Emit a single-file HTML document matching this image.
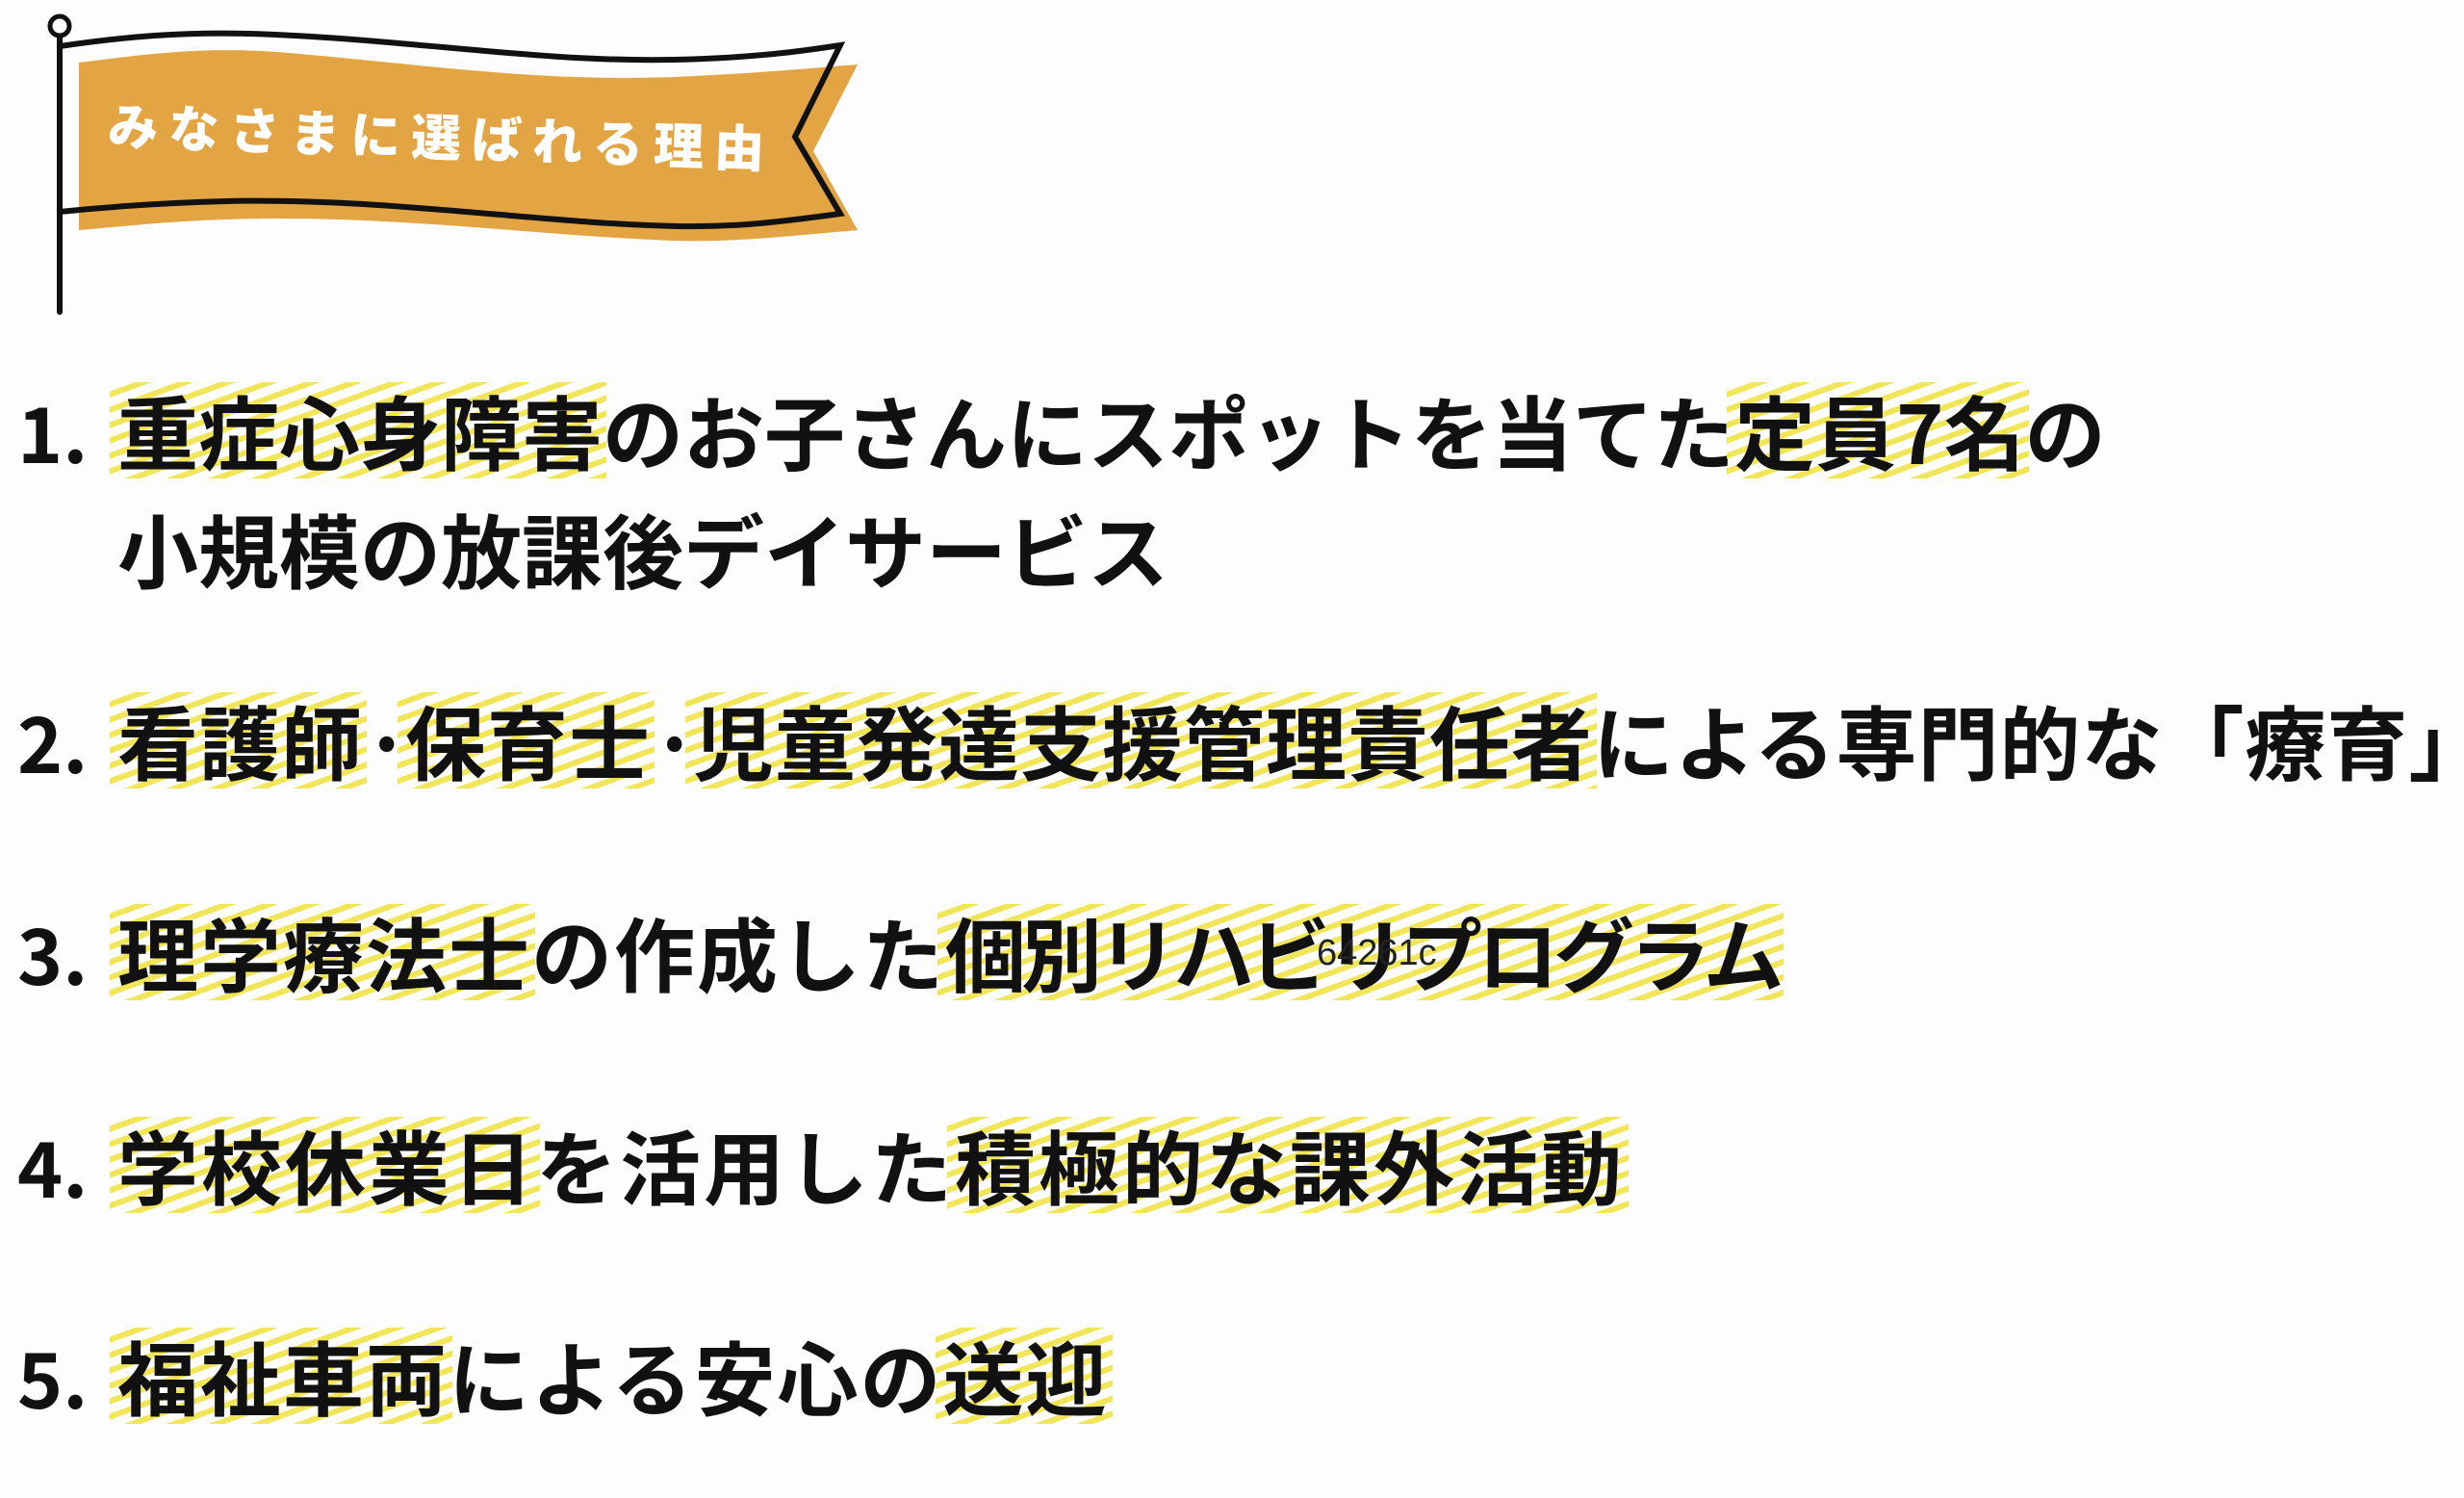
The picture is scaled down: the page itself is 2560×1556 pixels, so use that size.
<!DOCTYPE html>
<html><head><meta charset="utf-8"><style>
html,body{margin:0;padding:0;background:#fdfdfd;}
body{width:2560px;height:1556px;position:relative;overflow:hidden;font-family:"Liberation Sans","Noto Sans CJK JP",sans-serif;}
.ln{position:absolute;left:122px;font-family:"Noto Sans CJK JP",sans-serif;font-weight:700;font-size:84px;line-height:100px;height:100px;white-space:nowrap;color:#111;}
.num{position:absolute;left:18px;font-family:"Noto Sans CJK JP",sans-serif;font-weight:700;font-size:80px;line-height:100px;color:#111;}
.h{display:inline-block;line-height:100px;height:100px;vertical-align:top;margin-left:-8px;padding-left:8px;padding-right:4px;margin-right:-4px;
background:repeating-linear-gradient(160deg,transparent 0 9px,#f1e65a 9px 15px);}
.dot{display:inline-block;width:44px;text-align:center;}
</style></head><body>
<svg width="960" height="340" style="position:absolute;left:0;top:0">
<path d="M82,65 C160,55 220,48 300,55 C450,68 560,85 700,80 C790,76 850,70 891,67 L845,157 L891,239 C820,245 760,252 700,250 C560,245 400,222 235,228 C170,230 120,236 82,239 Z" fill="#e3a444"/>
<path d="M62,48 C130,38 190,33 260,35 C420,40 560,65 700,62 C790,60 840,52 873,47 L826,142 L873,222 C800,232 760,236 704,235 C560,232 400,205 235,209 C160,211 110,215 62,220" fill="none" stroke="#111" stroke-width="6" stroke-linejoin="miter"/>
<line x1="62" y1="38" x2="62" y2="324" stroke="#111" stroke-width="6" stroke-linecap="round"/>
<circle cx="62" cy="27" r="10" fill="none" stroke="#111" stroke-width="5"/>
<text x="112" y="162" transform="rotate(2 460 150)" fill="#fff" font-family="'Noto Sans CJK JP',sans-serif" font-weight="900" font-size="52" letter-spacing="11">みなさまに選ばれる理由</text>
</svg>

<div class="num" style="top:397px">1.</div>
<div class="ln" style="top:397px"><span class="h">重症心身障害</span>のお子さんにスポットを当てた<span class="h">定員7名</span>の</div>
<div class="ln" style="top:520px">小規模の放課後デイサービス</div>

<div class="num" style="top:719px">2.</div>
<div class="ln" style="top:719px;letter-spacing:1px"><span class="h">看護師</span><span class="dot">·</span><span class="h">保育士</span><span class="dot">·</span><span class="h">児童発達支援管理責任者</span>による専門的な「療育」</div>

<div class="num" style="top:939px">3.</div>
<div class="ln" style="top:939px;letter-spacing:2px"><span class="h">理学療法士</span>の作成した<span class="h" style="letter-spacing:-5px">個別リハビリプログラム</span></div>
<div style="position:absolute;left:1368px;top:970px;font-family:'Liberation Sans',sans-serif;font-size:38px;color:#222;line-height:40px;">64261c</div>

<div class="num" style="top:1160px">4.</div>
<div class="ln" style="top:1160px;letter-spacing:3px"><span class="h">学校休業日</span>を活用した<span class="h">積極的な課外活動</span></div>

<div class="num" style="top:1379px">5.</div>
<div class="ln" style="top:1379px;letter-spacing:2px"><span class="h">福祉車両</span>による安心の<span class="h">送迎</span></div>
</body></html>
